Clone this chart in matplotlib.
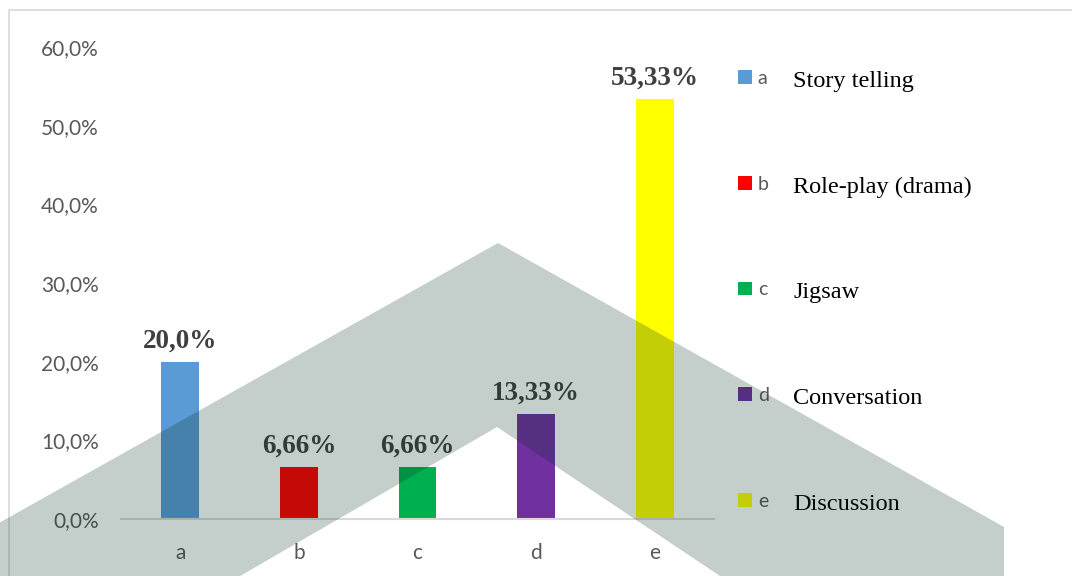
import matplotlib
matplotlib.use("Agg")
import matplotlib.pyplot as plt
from matplotlib.patches import Polygon, Rectangle
from matplotlib.ticker import FuncFormatter, MultipleLocator

# ---- data ----
categories = ["a", "b", "c", "d", "e"]
values = [0.20, 0.0666, 0.0666, 0.1333, 0.5333]
value_labels = ["20,0%", "6,66%", "6,66%", "13,33%", "53,33%"]
descriptions = ["Story telling", "Role-play (drama)", "Jigsaw", "Conversation", "Discussion"]
colors = ["#5B9BD5", "#FF0000", "#00B050", "#7030A0", "#FFFF00"]

W, H = 1072, 576
fig = plt.figure(figsize=(W / 100, H / 100), dpi=100)
fig.patch.set_facecolor("white")

ax = fig.add_axes([121 / W, 1 - 519 / H, (714 - 121) / W, (519 - 47) / H])
x = list(range(len(categories)))
bars = ax.bar(x, values, width=0.32, color=colors, zorder=2)

ax.set_xlim(-0.5, len(categories) - 0.5)
ax.set_ylim(0, 0.6)
ax.yaxis.set_major_locator(MultipleLocator(0.1))
ax.yaxis.set_major_formatter(FuncFormatter(lambda v, p: f"{v*100:.1f}%".replace(".", ",")))
ax.set_xticks(x)
ax.set_xticklabels(categories)

for lab in ax.get_yticklabels() + ax.get_xticklabels():
    lab.set_fontfamily("Lato")
    lab.set_fontsize(15)
    lab.set_color("#595959")
ax.tick_params(axis="y", length=0, pad=16)
ax.tick_params(axis="x", length=0, pad=17)

for s in ["top", "right", "left"]:
    ax.spines[s].set_visible(False)
ax.spines["bottom"].set_color("#D9D9D9")
ax.spines["bottom"].set_linewidth(1.5)
ax.set_facecolor("none")

for rect, lbl in zip(bars, value_labels):
    ax.annotate(lbl, (rect.get_x() + rect.get_width() / 2, rect.get_height()),
                xytext=(0, 6), textcoords="offset points", ha="center", va="bottom",
                fontfamily="Liberation Serif", fontweight="bold", fontsize=19.5,
                color="#404040", zorder=3)

leg = ax.legend(bars, categories, loc="upper left",
                bbox_to_anchor=(738 / W, 1 - 70 / H), bbox_transform=fig.transFigure,
                frameon=False, borderpad=0, borderaxespad=0,
                handlelength=0.72, handleheight=0.72, handletextpad=0.3,
                labelspacing=4.56, prop=dict(family="Lato", size=14))
for t in leg.get_texts():
    t.set_color("#595959")

# chart-area frame
fig.patches.append(Rectangle((8.5 / W, -0.1), 2, 1.1 - 9.5 / H, transform=fig.transFigure,
                             fill=False, edgecolor="#D9D9D9", linewidth=1.2, zorder=1))

# descriptions aligned with legend rows
fig.canvas.draw()
inv = fig.transFigure.inverted()
for t, d in zip(leg.get_texts(), descriptions):
    bb = t.get_window_extent()
    cy = inv.transform(((bb.x0 + bb.x1) / 2, (bb.y0 + bb.y1) / 2))[1]
    fig.text(793 / W, cy - 3 / H, d, ha="left", va="center",
             fontfamily="Liberation Serif", fontsize=17.5, color="black", zorder=5)

# watermark chevron (decoration)
wm_px = [(-10, 528), (498, 243), (1004, 527), (1004, 590), (741, 590),
         (497, 427), (216, 590), (-10, 590)]
wm = Polygon([(px / W, 1 - py / H) for px, py in wm_px], closed=True,
             transform=fig.transFigure, facecolor=(3 / 255, 46 / 255, 33 / 255),
             alpha=0.23, edgecolor="none", zorder=20)
fig.patches.append(wm)

fig.savefig("out.png", dpi=100)
